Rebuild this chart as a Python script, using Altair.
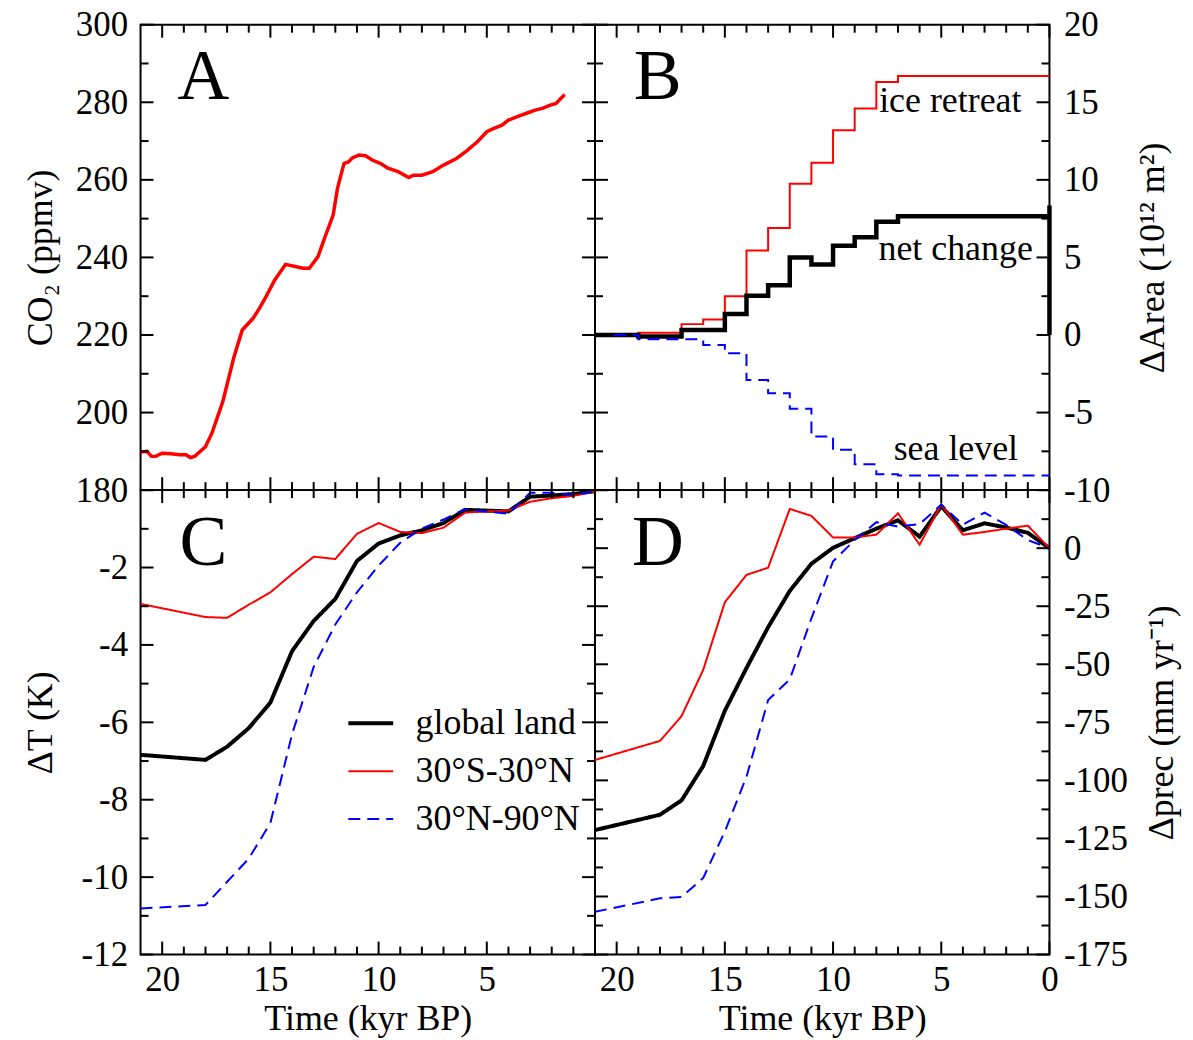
import altair as alt
import pandas as pd

FONT = "Liberation Serif"
W = 456
H_TOP = 467
H_BOT = 466

# ---------------- data ----------------
# Panel A: atmospheric CO2 (ppmv) vs time (kyr BP)
co2_time = [21.0, 20.7, 20.5, 20.3, 20.0, 19.6, 19.2, 18.9, 18.7, 18.5,
            18.0, 17.7, 17.2, 16.7, 16.3, 15.8, 15.5, 15.2, 14.8, 14.3,
            13.8, 13.5, 13.2, 12.8, 12.5, 12.1, 11.9, 11.6, 11.4, 11.2,
            10.9, 10.6, 10.3, 9.9, 9.6, 9.1, 8.6, 8.4, 8.0, 7.5,
            7.0, 6.4, 5.9, 5.4, 5.0, 4.7, 4.3, 4.0, 3.5, 3.1,
            2.8, 2.4, 2.1, 1.8, 1.4]
co2_ppmv = [189.8, 190.0, 188.7, 188.7, 189.5, 189.4, 189.1, 189.1, 188.4, 188.7,
            191.2, 194.7, 202.8, 214.0, 221.3, 224.3, 226.9, 229.9, 234.2, 238.2,
            237.6, 237.2, 237.2, 240.2, 244.9, 250.9, 257.8, 264.2, 264.6, 265.7,
            266.4, 266.2, 265.1, 264.2, 263.1, 262.1, 260.6, 261.2, 261.2, 262.1,
            263.8, 265.5, 267.6, 270.0, 272.4, 273.2, 274.1, 275.4, 276.5, 277.3,
            277.9, 278.5, 279.2, 279.7, 282.0]

# Panel B: change of land area (10^12 m^2), stepwise
B_SERIES = ["ice retreat", "net change", "sea level"]
ice_time = [21, 19, 17, 16, 15, 14, 13, 12, 11, 10, 9, 8, 7, 0]
ice_area = [0.0, 0.15, 0.7, 1.0, 2.5, 5.45, 6.9, 9.75, 11.1, 13.2, 14.6, 16.3, 16.7, 16.7]
net_time = [21, 19, 17, 15, 14, 13, 12, 11, 10, 9, 8, 7, 0, 0, 0]
net_area = [0.0, -0.1, 0.32, 1.35, 2.53, 3.2, 5.0, 4.55, 5.75, 6.3, 7.3, 7.66, 7.66, 8.35, 0.0]
sea_time = [21, 19, 16, 15, 14, 13, 12, 11, 10, 9, 8, 7, 0]
sea_area = [0.0, -0.28, -0.65, -1.18, -2.9, -3.75, -4.76, -6.55, -7.4, -8.33, -8.97, -9.05, -9.05]
B_NOTES = ["ice retreat", "net change", "sea level"]
B_NOTE_T = [7.87, 7.9, 7.2]
B_NOTE_Y = [14.4, 4.83, -8.05]

# Panels C and D: land temperature and precipitation change
CD_SERIES = ["global land", "30°S-30°N", "30°N-90°N"]
cd_time = [21, 18, 17, 16, 15, 14, 13, 12, 11, 10, 9, 8, 7, 6, 5, 4, 3, 2, 1, 0]
dT_global = [-6.84, -6.97, -6.63, -6.15, -5.49, -4.16, -3.38, -2.81, -1.83, -1.38,
             -1.17, -1.04, -0.85, -0.51, -0.53, -0.55, -0.17, -0.14, -0.10, -0.03]
dT_tropics = [-2.94, -3.28, -3.30, -2.96, -2.64, -2.17, -1.72, -1.78, -1.13, -0.85,
              -1.08, -1.11, -0.97, -0.58, -0.55, -0.53, -0.30, -0.21, -0.15, -0.03]
dT_north = [-10.81, -10.72, -10.12, -9.52, -8.6, -6.31, -4.57, -3.47, -2.64, -1.95,
            -1.36, -0.99, -0.76, -0.49, -0.55, -0.61, -0.07, -0.07, -0.12, -0.03]
dP_global = [-121.4, -114.8, -108.6, -93.8, -70.0, -51.6, -34.0, -18.4, -6.7, 0.15,
             4.3, 8.4, 12.0, 5.0, 18.0, 7.7, 10.7, 8.9, 6.6, 0.0]
dP_tropics = [-91.2, -83.0, -72.3, -52.4, -23.3, -11.5, -8.4, 16.9, 13.9, 4.6,
              4.6, 5.8, 15.0, 1.5, 18.8, 5.8, 7.0, 8.4, 9.7, 0.0]
dP_north = [-156.6, -150.8, -150.2, -142.0, -122.0, -98.4, -65.4, -56.5, -30.2, -5.7,
            3.5, 11.2, 9.3, 10.4, 18.8, 10.1, 15.3, 10.0, 3.5, 0.0]

# tick values
X_MAJOR = [0, 5, 10, 15, 20]
X_MINOR = [1, 2, 3, 4, 6, 7, 8, 9, 11, 12, 13, 14, 16, 17, 18, 19]
A_MAJOR = [180, 200, 220, 240, 260, 280, 300]
A_MINOR = [190, 210, 230, 250, 270, 290]
B_MAJOR = [-10, -5, 0, 5, 10, 15, 20]
B_MINOR = [-7.5, -2.5, 2.5, 7.5, 12.5, 17.5]
C_MAJOR = [-12, -10, -8, -6, -4, -2, 0]
C_MINOR = [-11, -9, -7, -5, -3, -1]
C_LABELS = [-12, -10, -8, -6, -4, -2]
D_MAJOR = [-175, -150, -125, -100, -75, -50, -25, 0, 25]
D_MINOR = [-162.5, -137.5, -112.5, -87.5, -62.5, -37.5, -12.5, 12.5]
D_LABELS = [-175, -150, -125, -100, -75, -50, -25, 0]

# ---------------- tables ----------------
df_a = pd.DataFrame({"t": co2_time, "co2": co2_ppmv})

rows = []
for name, ts, vs in [("ice retreat", ice_time, ice_area),
                     ("net change", net_time, net_area),
                     ("sea level", sea_time, sea_area)]:
    for i, (tt, vv) in enumerate(zip(ts, vs)):
        rows.append({"series": name, "i": i, "t": tt, "area": vv})
df_b = pd.DataFrame(rows)

rows_c, rows_d = [], []
for name, vT, vP in [(CD_SERIES[0], dT_global, dP_global),
                     (CD_SERIES[1], dT_tropics, dP_tropics),
                     (CD_SERIES[2], dT_north, dP_north)]:
    for tt, a, b in zip(cd_time, vT, vP):
        rows_c.append({"series": name, "t": tt, "dT": a})
        rows_d.append({"series": name, "t": tt, "dP": b})
df_c = pd.DataFrame(rows_c)
df_d = pd.DataFrame(rows_d)

TICK_MAJOR = 13
TICK_MINOR = 8
LABEL_SIZE = 35
TITLE_SIZE = 36


def ylab_axis(orient, values, title, extent, tpad, pad):
    kw = dict(orient=orient, values=values, ticks=False, tickSize=0, domain=False,
              grid=False, labelPadding=pad, labelFont=FONT, labelFontSize=LABEL_SIZE,
              labelColor="black", labelExpr="'' + datum.value", labelFlush=False,
              labelOverlap=False, minExtent=extent, maxExtent=extent, title=title,
              titleFont=FONT, titleFontSize=TITLE_SIZE, titleFontWeight="normal",
              titleColor="black", titlePadding=tpad)
    if orient == "right":
        kw.update(titleAngle=270, titleBaseline="top")
    return alt.Axis(**kw)


def xlab_axis(values):
    return alt.Axis(orient="bottom", values=values, ticks=False, tickSize=0,
                    domain=False, grid=False, labelPadding=8, labelFont=FONT,
                    labelFontSize=LABEL_SIZE, labelColor="black", labelExpr="'' + datum.value",
                    labelFlush=False, labelOverlap=False, minExtent=43, maxExtent=43,
                    title="Time (kyr BP)", titleFont=FONT, titleFontSize=TITLE_SIZE,
                    titleFontWeight="normal", titleColor="black", titlePadding=4)


def tick_rules(yfield, xs, ys, ymaj, ymin, h):
    """Inward-pointing major/minor ticks on all four sides of a panel."""
    out = []
    for vals, size in [(X_MAJOR, TICK_MAJOR), (X_MINOR, TICK_MINOR)]:
        d = pd.DataFrame({"t": vals})
        base = alt.Chart(d).mark_rule(color="black", strokeWidth=2)
        xenc = alt.X("t:Q", scale=xs, axis=None)
        out.append(base.encode(x=xenc, y=alt.value(0), y2=alt.value(size)))
        out.append(base.encode(x=xenc, y=alt.value(h), y2=alt.value(h - size)))
    for vals, size in [(ymaj, TICK_MAJOR), (ymin, TICK_MINOR)]:
        d = pd.DataFrame({yfield: vals})
        base = alt.Chart(d).mark_rule(color="black", strokeWidth=2)
        yenc = alt.Y(f"{yfield}:Q", scale=ys, axis=None)
        out.append(base.encode(y=yenc, x=alt.value(0), x2=alt.value(size)))
        out.append(base.encode(y=yenc, x=alt.value(W), x2=alt.value(W - size)))
    return out


def letter(ch):
    return alt.Chart(pd.DataFrame({"letter": [ch]})).mark_text(
        font=FONT, fontSize=72, align="center", baseline="alphabetic", color="black"
    ).encode(x=alt.value(63), y=alt.value(75), text="letter:N")


def xscale():
    return alt.Scale(domain=[0, 21], reverse=True, nice=False, zero=False)


# ---------------- panel A ----------------
xs_a = xscale()
ys_a = alt.Scale(domain=[180, 300], nice=False, zero=False)
line_a = alt.Chart(df_a).mark_line(color="red", strokeWidth=3.5).encode(
    x=alt.X("t:Q", scale=xs_a, axis=None),
    y=alt.Y("co2:Q", scale=ys_a, axis=ylab_axis("left", A_MAJOR, "CO₂ (ppmv)", 64, 17, 13)))
panel_a = alt.layer(
    line_a, *tick_rules("co2", xs_a, ys_a, A_MAJOR, A_MINOR, H_TOP), letter("A")
).resolve_axis(x="independent", y="independent").properties(width=W, height=H_TOP)

# ---------------- panel B ----------------
xs_b = xscale()
ys_b = alt.Scale(domain=[-10, 20], nice=False, zero=False)
line_b = alt.Chart(df_b).mark_line(interpolate="step-after").encode(
    x=alt.X("t:Q", scale=xs_b, axis=None),
    y=alt.Y("area:Q", scale=ys_b,
            axis=ylab_axis("right", B_MAJOR, "ΔArea  (10¹² m²)", 60, 26, 14)),
    color=alt.Color("series:N", scale=alt.Scale(domain=B_SERIES, range=["red", "black", "blue"]), legend=None),
    strokeDash=alt.StrokeDash("series:N", scale=alt.Scale(domain=B_SERIES, range=[[1, 0], [1, 0], [12, 7]]), legend=None),
    strokeWidth=alt.condition("datum.series === 'net change'", alt.value(4.5), alt.value(2)),
    order=alt.Order("i:Q"))
notes_b = alt.Chart(pd.DataFrame({"t": B_NOTE_T, "area": B_NOTE_Y, "note": B_NOTES})).mark_text(
    font=FONT, fontSize=36, align="left", baseline="alphabetic", color="black"
).encode(x=alt.X("t:Q", scale=xs_b, axis=None),
         y=alt.Y("area:Q", scale=ys_b, axis=None), text="note:N")
panel_b = alt.layer(
    line_b, *tick_rules("area", xs_b, ys_b, B_MAJOR, B_MINOR, H_TOP), notes_b, letter("B")
).resolve_axis(x="independent", y="independent").properties(width=W, height=H_TOP)


# ---------------- panels C and D ----------------
def cd_encodings(legend):
    return dict(
        color=alt.Color("series:N", scale=alt.Scale(domain=CD_SERIES, range=["black", "red", "blue"]), legend=legend),
        strokeDash=alt.StrokeDash("series:N", scale=alt.Scale(domain=CD_SERIES, range=[[1, 0], [1, 0], [12, 7]]), legend=legend),
        strokeWidth=alt.condition("datum.series === 'global land'", alt.value(4), alt.value(2)),
    )


leg_c = alt.Legend(orient="none", legendX=213, legendY=216, title=None,
                   symbolType="stroke", symbolSize=2025, labelFont=FONT,
                   labelFontSize=36, labelColor="black", labelOffset=27,
                   labelLimit=400, rowPadding=12, padding=0,
                   symbolStrokeWidth={"expr": "datum.value === 'global land' ? 4 : 2"})

xs_c = xscale()
ys_c = alt.Scale(domain=[-12, 0], nice=False, zero=False)
line_c = alt.Chart(df_c).mark_line().encode(
    x=alt.X("t:Q", scale=xs_c, axis=xlab_axis([5, 10, 15, 20])),
    y=alt.Y("dT:Q", scale=ys_c, axis=ylab_axis("left", C_LABELS, "ΔT (K)", 64, 17, 13)),
    **cd_encodings(leg_c))
panel_c = alt.layer(
    line_c, *tick_rules("dT", xs_c, ys_c, C_MAJOR, C_MINOR, H_BOT), letter("C")
).resolve_axis(x="independent", y="independent").properties(width=W, height=H_BOT)

xs_d = xscale()
ys_d = alt.Scale(domain=[-175, 25], nice=False, zero=False)
line_d = alt.Chart(df_d).mark_line().encode(
    x=alt.X("t:Q", scale=xs_d, axis=xlab_axis(X_MAJOR)),
    y=alt.Y("dP:Q", scale=ys_d, axis=ylab_axis("right", D_LABELS, "Δprec (mm yr⁻¹)", 76, 19, 14)),
    **cd_encodings(None))
panel_d = alt.layer(
    line_d, *tick_rules("dP", xs_d, ys_d, D_MAJOR, D_MINOR, H_BOT), letter("D")
).resolve_axis(x="independent", y="independent").properties(width=W, height=H_BOT)

chart = alt.concat(panel_a, panel_b, panel_c, panel_d, columns=2, spacing=0, bounds="flush").resolve_scale(
    x="independent", y="independent", color="independent", strokeDash="independent"
).resolve_legend(
    color="independent", strokeDash="independent"
).configure_view(stroke="black", strokeWidth=2).properties(
    padding={"left": 14, "top": -3, "right": 5, "bottom": 5}
)

chart.save("out.html", embed_options={"renderer": "svg", "actions": False})
